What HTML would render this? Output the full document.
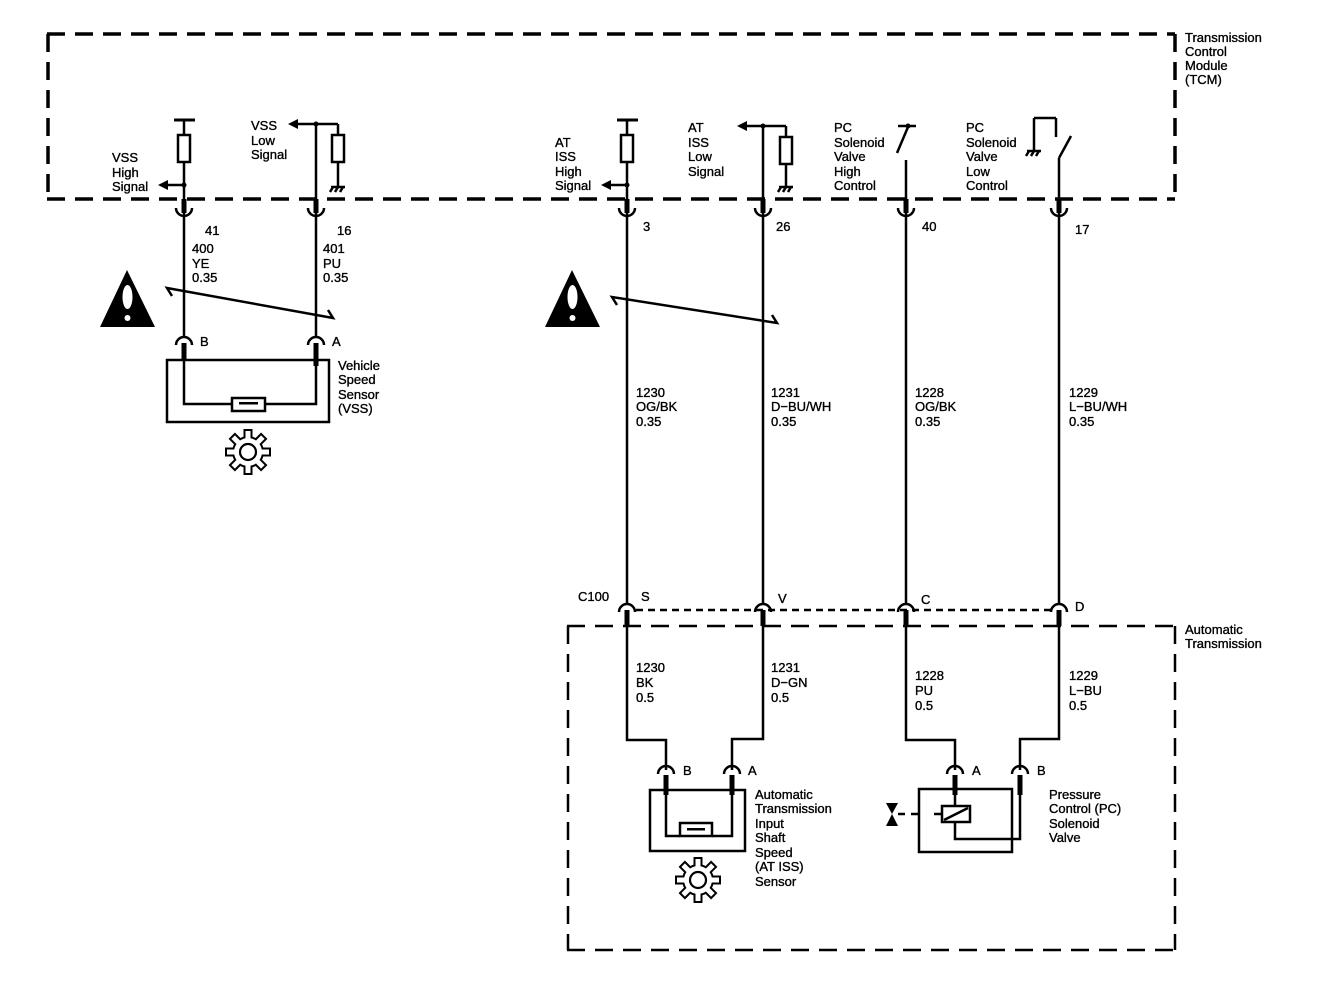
<!DOCTYPE html>
<html><head><meta charset="utf-8"><style>
html,body{margin:0;padding:0;background:#fff;}
svg{display:block;}
text{font-family:"Liberation Sans",sans-serif;font-size:13px;fill:#000;stroke:#000;stroke-width:0.35px;}
</style></head><body>
<svg width="1328" height="988" viewBox="0 0 1328 988" xmlns="http://www.w3.org/2000/svg">
<defs>
<g id="gear">
  <g fill="#000">
    <circle r="16"/>
    <rect x="-4.5" y="-23" width="9" height="12"/>
    <rect x="-4.5" y="-23" width="9" height="12" transform="rotate(45)"/>
    <rect x="-4.5" y="-23" width="9" height="12" transform="rotate(90)"/>
    <rect x="-4.5" y="-23" width="9" height="12" transform="rotate(135)"/>
    <rect x="-4.5" y="-23" width="9" height="12" transform="rotate(180)"/>
    <rect x="-4.5" y="-23" width="9" height="12" transform="rotate(225)"/>
    <rect x="-4.5" y="-23" width="9" height="12" transform="rotate(270)"/>
    <rect x="-4.5" y="-23" width="9" height="12" transform="rotate(315)"/>
  </g>
  <g fill="#fff">
    <circle r="14"/>
    <rect x="-2.5" y="-21" width="5" height="10"/>
    <rect x="-2.5" y="-21" width="5" height="10" transform="rotate(45)"/>
    <rect x="-2.5" y="-21" width="5" height="10" transform="rotate(90)"/>
    <rect x="-2.5" y="-21" width="5" height="10" transform="rotate(135)"/>
    <rect x="-2.5" y="-21" width="5" height="10" transform="rotate(180)"/>
    <rect x="-2.5" y="-21" width="5" height="10" transform="rotate(225)"/>
    <rect x="-2.5" y="-21" width="5" height="10" transform="rotate(270)"/>
    <rect x="-2.5" y="-21" width="5" height="10" transform="rotate(315)"/>
  </g>
  <circle r="8" fill="none" stroke="#000" stroke-width="2.2"/>
</g>
<g id="warn">
  <polygon points="27,0 55,57 0,57" fill="#000"/>
  <ellipse cx="27.5" cy="27" rx="5" ry="12" fill="#fff"/>
  <circle cx="27.5" cy="48" r="3" fill="#fff"/>
</g>
<g id="gnd" stroke="#000" stroke-width="2.5" fill="none">
  <line x1="-7" y1="0" x2="7" y2="0"/>
  <line x1="-5" y1="0" x2="-8" y2="5"/>
  <line x1="0" y1="0" x2="-3" y2="5"/>
  <line x1="5" y1="0" x2="2" y2="5"/>
</g>
</defs>

<g stroke="#000" stroke-width="3.5" fill="none" stroke-dasharray="18,10">
  <line x1="47" y1="34" x2="1175" y2="34"/>
  <line x1="47" y1="199" x2="1175" y2="199"/>
  <line x1="48" y1="34" x2="48" y2="199"/>
  <line x1="1175" y1="34" x2="1175" y2="199"/>
</g>
<text x="1185" y="42">Transmission</text>
<text x="1185" y="56">Control</text>
<text x="1185" y="70">Module</text>
<text x="1185" y="84">(TCM)</text>

<g stroke="#000" stroke-width="2.5" fill="none" stroke-dasharray="18,10">
  <line x1="567" y1="626" x2="1175" y2="626"/>
  <line x1="567" y1="950" x2="1175" y2="950"/>
  <line x1="568" y1="626" x2="568" y2="950"/>
  <line x1="1175" y1="626" x2="1175" y2="950"/>
</g>
<text x="1185" y="634">Automatic</text>
<text x="1185" y="648">Transmission</text>

<g stroke="#000" stroke-width="2.5" fill="none">
<line x1="174" y1="120" x2="195" y2="120" stroke-width="3"/>
<line x1="184" y1="120" x2="184" y2="199"/>
<rect x="178" y="135" width="12" height="27" fill="#fff"/>
<line x1="184" y1="185" x2="166" y2="185"/>
<line x1="316" y1="124" x2="316" y2="199"/>
<line x1="316" y1="124" x2="338" y2="124"/>
<line x1="316" y1="124" x2="296" y2="124"/>
<line x1="338" y1="124" x2="338" y2="186"/>
<rect x="332" y="135" width="12" height="27" fill="#fff"/>
<line x1="617" y1="120" x2="638" y2="120" stroke-width="3"/>
<line x1="627" y1="120" x2="627" y2="199"/>
<rect x="621" y="135" width="12" height="27" fill="#fff"/>
<line x1="627" y1="185" x2="609" y2="185"/>
<line x1="763" y1="126" x2="763" y2="199"/>
<line x1="763" y1="126" x2="786" y2="126"/>
<line x1="763" y1="126" x2="745" y2="126"/>
<line x1="786" y1="126" x2="786" y2="186"/>
<rect x="780" y="137" width="12" height="27" fill="#fff"/>
<line x1="898" y1="126" x2="916" y2="126"/>
<line x1="908" y1="127" x2="897" y2="153"/>
<line x1="906" y1="160" x2="906" y2="199"/>
<line x1="1034" y1="150" x2="1034" y2="118"/>
<line x1="1034" y1="118" x2="1056" y2="118"/>
<line x1="1056" y1="118" x2="1056" y2="137"/>
<line x1="1059" y1="158" x2="1071" y2="136"/>
<line x1="1059" y1="158" x2="1059" y2="199"/>
</g>
<g fill="#000">
<circle cx="184" cy="185" r="2.5"/>
<polygon points="158,185 168,180 168,190"/>
<circle cx="316" cy="124" r="2.5"/>
<polygon points="288,124 298,119 298,129"/>
<circle cx="627" cy="185" r="2.5"/>
<polygon points="601,185 611,180 611,190"/>
<circle cx="763" cy="126" r="2.5"/>
<polygon points="737,126 747,121 747,131"/>
<circle cx="908" cy="126" r="2.5"/>
</g>
<use href="#gnd" x="338" y="187"/>
<use href="#gnd" x="786" y="187"/>
<use href="#gnd" x="1034" y="151"/>

<text x="112" y="162">VSS</text><text x="112" y="177">High</text><text x="112" y="191">Signal</text>
<text x="251" y="130">VSS</text><text x="251" y="145">Low</text><text x="251" y="159">Signal</text>
<text x="555" y="147">AT</text><text x="555" y="161">ISS</text><text x="555" y="176">High</text><text x="555" y="190">Signal</text>
<text x="688" y="132">AT</text><text x="688" y="147">ISS</text><text x="688" y="161">Low</text><text x="688" y="176">Signal</text>
<text x="834" y="132">PC</text><text x="834" y="147">Solenoid</text><text x="834" y="161">Valve</text><text x="834" y="176">High</text><text x="834" y="190">Control</text>
<text x="966" y="132">PC</text><text x="966" y="147">Solenoid</text><text x="966" y="161">Valve</text><text x="966" y="176">Low</text><text x="966" y="190">Control</text>

<g stroke="#000" fill="none">
  <g stroke-width="5">
    <line x1="184" y1="199" x2="184" y2="213"/>
    <line x1="316" y1="199" x2="316" y2="213"/>
    <line x1="627" y1="199" x2="627" y2="213"/>
    <line x1="763" y1="199" x2="763" y2="213"/>
    <line x1="906" y1="199" x2="906" y2="213"/>
    <line x1="1059" y1="199" x2="1059" y2="213"/>
  </g>
  <g stroke-width="2.5">
    <path d="M176,208 A8,8 0 0 0 192,208"/>
    <path d="M308,208 A8,8 0 0 0 324,208"/>
    <path d="M619,208 A8,8 0 0 0 635,208"/>
    <path d="M755,208 A8,8 0 0 0 771,208"/>
    <path d="M898,208 A8,8 0 0 0 914,208"/>
    <path d="M1051,208 A8,8 0 0 0 1067,208"/>
    <line x1="184" y1="213" x2="184" y2="338"/>
    <line x1="316" y1="213" x2="316" y2="338"/>
    <line x1="627" y1="213" x2="627" y2="604"/>
    <line x1="763" y1="213" x2="763" y2="604"/>
    <line x1="906" y1="213" x2="906" y2="604"/>
    <line x1="1059" y1="213" x2="1059" y2="604"/>
    <path d="M172,296 L167,288 L333,318 L328,310"/>
    <path d="M617,305 L612,297 L777,323 L772,315"/>
    <path d="M176,345 A8,8 0 0 1 192,345"/>
    <path d="M308,345 A8,8 0 0 1 324,345"/>
    <rect x="167" y="360" width="162" height="62"/>
    <path d="M184,345 L184,404 L232,404 M265,404 L316,404 L316,360"/>
    <rect x="232" y="398" width="33" height="13"/>
  </g>
  <g stroke-width="5">
    <line x1="184" y1="343" x2="184" y2="360"/>
    <line x1="316" y1="343" x2="316" y2="366"/>
  </g>
</g>
<rect x="239" y="402" width="19" height="2.5" fill="#000"/>
<use href="#gear" x="248" y="452"/>
<use href="#warn" x="100" y="270"/>
<use href="#warn" x="545" y="270"/>

<text x="205" y="235">41</text>
<text x="337" y="235">16</text>
<text x="192" y="253">400</text><text x="192" y="268">YE</text><text x="192" y="282">0.35</text>
<text x="323" y="253">401</text><text x="323" y="268">PU</text><text x="323" y="282">0.35</text>
<text x="200" y="346">B</text>
<text x="332" y="346">A</text>
<text x="338" y="370">Vehicle</text><text x="338" y="384">Speed</text><text x="338" y="399">Sensor</text><text x="338" y="413">(VSS)</text>
<text x="643" y="231">3</text>
<text x="776" y="231">26</text>
<text x="922" y="231">40</text>
<text x="1075" y="234">17</text>
<text x="636" y="397">1230</text><text x="636" y="411">OG/BK</text><text x="636" y="426">0.35</text>
<text x="771" y="397">1231</text><text x="771" y="411">D−BU/WH</text><text x="771" y="426">0.35</text>
<text x="915" y="397">1228</text><text x="915" y="411">OG/BK</text><text x="915" y="426">0.35</text>
<text x="1069" y="397">1229</text><text x="1069" y="411">L−BU/WH</text><text x="1069" y="426">0.35</text>

<g stroke="#000" fill="none">
  <line x1="636" y1="610" x2="1052" y2="610" stroke-width="2.5" stroke-dasharray="7,5"/>
  <g stroke-width="2.5">
    <path d="M619,612 A8,8 0 0 1 635,612"/>
    <path d="M755,612 A8,8 0 0 1 771,612"/>
    <path d="M898,612 A8,8 0 0 1 914,612"/>
    <path d="M1051,612 A8,8 0 0 1 1067,612"/>
  </g>
  <g stroke-width="5">
    <line x1="627" y1="610" x2="627" y2="626"/>
    <line x1="763" y1="610" x2="763" y2="626"/>
    <line x1="906" y1="610" x2="906" y2="626"/>
    <line x1="1059" y1="610" x2="1059" y2="626"/>
  </g>
  <g stroke-width="2.5">
    <path d="M627,626 L627,740 L666,740 L666,770"/>
    <path d="M763,626 L763,739 L732,739 L732,770"/>
    <path d="M906,626 L906,740 L955,740 L955,770"/>
    <path d="M1059,626 L1059,739 L1020,739 L1020,770"/>
    <path d="M658,774 A8,8 0 0 1 674,774"/>
    <path d="M724,774 A8,8 0 0 1 740,774"/>
    <path d="M947,774 A8,8 0 0 1 963,774"/>
    <path d="M1012,774 A8,8 0 0 1 1028,774"/>
    <rect x="650" y="790" width="95" height="61"/>
    <path d="M666,790 L666,836 L680,836 M712,836 L732,836 L732,790"/>
    <rect x="680" y="823" width="32" height="13"/>
    <rect x="919" y="789" width="93" height="63"/>
    <path d="M955,789 L955,806 M955,822 L955,839 L1020,839 L1020,789"/>
    <rect x="942" y="806" width="28" height="16"/>
    <line x1="944" y1="820" x2="968" y2="808"/>
    <line x1="911" y1="814" x2="919" y2="814"/>
    <line x1="934" y1="814" x2="942" y2="814"/>
    <line x1="898" y1="814" x2="905" y2="814"/>
  </g>
  <g stroke-width="5">
    <line x1="666" y1="775" x2="666" y2="795"/>
    <line x1="732" y1="775" x2="732" y2="795"/>
    <line x1="955" y1="775" x2="955" y2="795"/>
    <line x1="1020" y1="775" x2="1020" y2="795"/>
  </g>
</g>
<rect x="687" y="828" width="18" height="2.5" fill="#000"/>
<polygon points="886,803 898,803 892,814" fill="#000"/>
<polygon points="886,826 898,826 892,814" fill="#000"/>
<use href="#gear" x="698" y="880"/>

<text x="578" y="601">C100</text>
<text x="641" y="601">S</text>
<text x="778" y="603">V</text>
<text x="921" y="604">C</text>
<text x="1075" y="611">D</text>
<text x="636" y="672">1230</text><text x="636" y="687">BK</text><text x="636" y="702">0.5</text>
<text x="771" y="672">1231</text><text x="771" y="687">D−GN</text><text x="771" y="702">0.5</text>
<text x="915" y="680">1228</text><text x="915" y="695">PU</text><text x="915" y="710">0.5</text>
<text x="1069" y="680">1229</text><text x="1069" y="695">L−BU</text><text x="1069" y="710">0.5</text>
<text x="683" y="775">B</text>
<text x="748" y="775">A</text>
<text x="972" y="775">A</text>
<text x="1037" y="775">B</text>
<text x="755" y="799">Automatic</text><text x="755" y="813">Transmission</text><text x="755" y="828">Input</text><text x="755" y="842">Shaft</text><text x="755" y="857">Speed</text><text x="755" y="871">(AT ISS)</text><text x="755" y="886">Sensor</text>
<text x="1049" y="799">Pressure</text><text x="1049" y="813">Control (PC)</text><text x="1049" y="828">Solenoid</text><text x="1049" y="842">Valve</text>
</svg>
</body></html>
